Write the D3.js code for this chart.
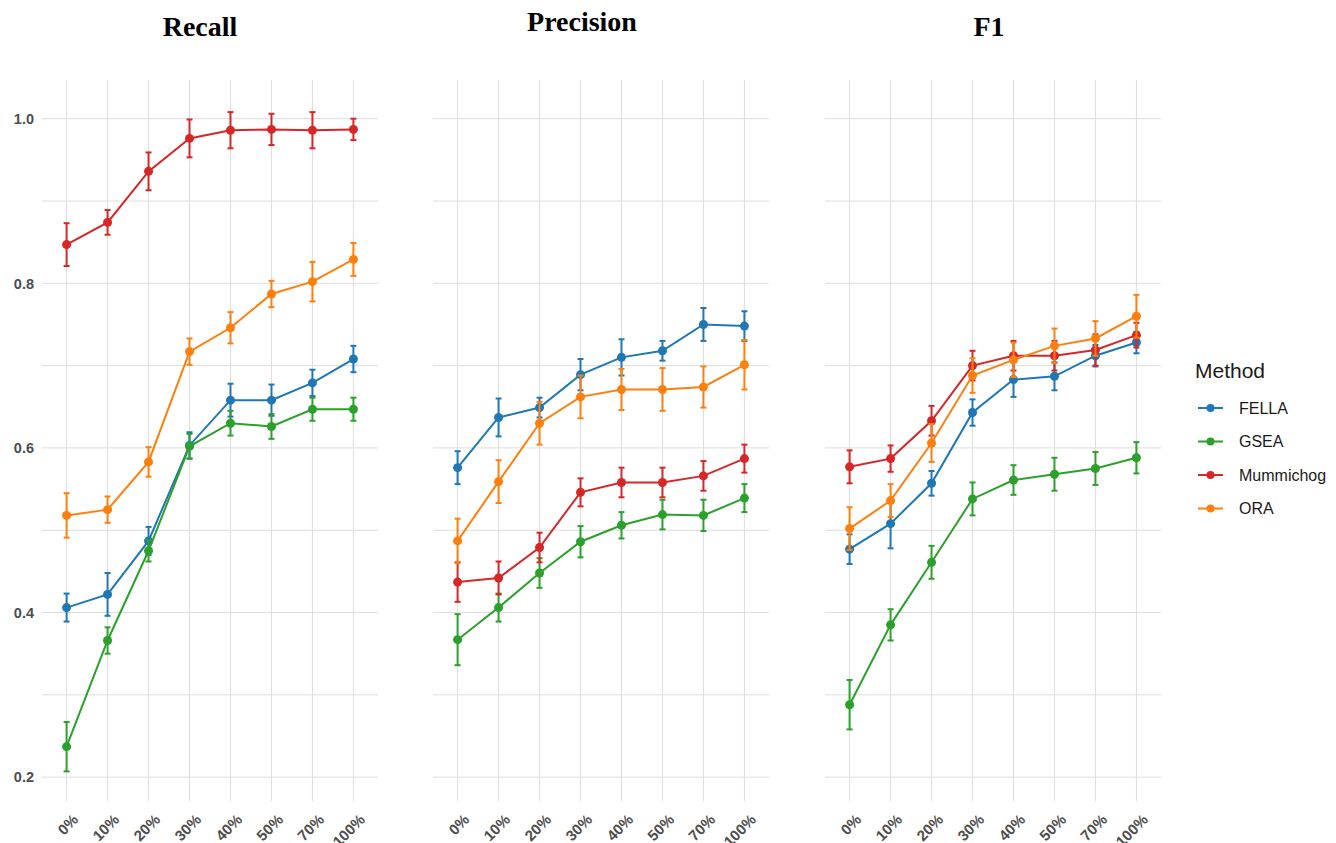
<!DOCTYPE html>
<html>
<head>
<meta charset="utf-8">
<script src="https://cdn.jsdelivr.net/npm/d3@7"></script>
<style>
  body { margin: 0; background: #fff; }
  svg { display: block; }
</style>
</head>
<body>
<div id="chart"></div>
<script>
// values
const levels = ["0%", "10%", "20%", "30%", "40%", "50%", "70%", "100%"];
const methods = ["FELLA", "GSEA", "Mummichog", "ORA"];
const colors = ["#1f77b4", "#2ca02c", "#d62728", "#ff7f0e"];
const yTicks = [0.2, 0.4, 0.6, 0.8, 1.0];
const yGrid = [0.2, 0.3, 0.4, 0.5, 0.6, 0.7, 0.8, 0.9, 1.0];

const recallFELLA = [0.406, 0.422, 0.487, 0.603, 0.658, 0.658, 0.679, 0.708];
const recallFELLAErr = [0.017, 0.026, 0.017, 0.016, 0.020, 0.019, 0.016, 0.016];
const recallGSEA = [0.237, 0.366, 0.475, 0.602, 0.630, 0.626, 0.647, 0.647];
const recallGSEAErr = [0.030, 0.016, 0.013, 0.015, 0.015, 0.015, 0.014, 0.014];
const recallMummichog = [0.847, 0.874, 0.936, 0.976, 0.986, 0.987, 0.986, 0.987];
const recallMummichogErr = [0.026, 0.015, 0.023, 0.023, 0.022, 0.019, 0.022, 0.013];
const recallORA = [0.518, 0.525, 0.583, 0.717, 0.746, 0.787, 0.802, 0.829];
const recallORAErr = [0.027, 0.016, 0.018, 0.016, 0.019, 0.016, 0.024, 0.020];

const precisionFELLA = [0.576, 0.637, 0.649, 0.689, 0.710, 0.718, 0.750, 0.748];
const precisionFELLAErr = [0.020, 0.023, 0.012, 0.019, 0.022, 0.012, 0.020, 0.018];
const precisionGSEA = [0.367, 0.406, 0.448, 0.486, 0.506, 0.519, 0.518, 0.539];
const precisionGSEAErr = [0.031, 0.017, 0.018, 0.019, 0.016, 0.018, 0.019, 0.017];
const precisionMummichog = [0.437, 0.442, 0.479, 0.546, 0.558, 0.558, 0.566, 0.587];
const precisionMummichogErr = [0.024, 0.020, 0.018, 0.017, 0.018, 0.018, 0.018, 0.017];
const precisionORA = [0.487, 0.559, 0.630, 0.662, 0.671, 0.671, 0.674, 0.701];
const precisionORAErr = [0.027, 0.026, 0.026, 0.026, 0.025, 0.026, 0.025, 0.030];

const f1FELLA = [0.477, 0.508, 0.557, 0.643, 0.683, 0.687, 0.712, 0.728];
const f1FELLAErr = [0.018, 0.030, 0.015, 0.016, 0.021, 0.017, 0.013, 0.013];
const f1GSEA = [0.288, 0.385, 0.461, 0.538, 0.561, 0.568, 0.575, 0.588];
const f1GSEAErr = [0.030, 0.019, 0.020, 0.020, 0.018, 0.020, 0.020, 0.019];
const f1Mummichog = [0.577, 0.587, 0.633, 0.700, 0.712, 0.712, 0.719, 0.737];
const f1MummichogErr = [0.020, 0.016, 0.018, 0.018, 0.018, 0.018, 0.019, 0.015];
const f1ORA = [0.502, 0.536, 0.606, 0.688, 0.707, 0.724, 0.733, 0.760];
const f1ORAErr = [0.026, 0.020, 0.023, 0.021, 0.021, 0.021, 0.021, 0.026];

const panels = [
  { title: "Recall", left: 42, titleX: 200, titleY: 36, showY: true,
    series: [[recallFELLA, recallFELLAErr], [recallGSEA, recallGSEAErr],
             [recallMummichog, recallMummichogErr], [recallORA, recallORAErr]] },
  { title: "Precision", left: 433, titleX: 582, titleY: 31, showY: false,
    series: [[precisionFELLA, precisionFELLAErr], [precisionGSEA, precisionGSEAErr],
             [precisionMummichog, precisionMummichogErr], [precisionORA, precisionORAErr]] },
  { title: "F1", left: 825, titleX: 989, titleY: 36, showY: false,
    series: [[f1FELLA, f1FELLAErr], [f1GSEA, f1GSEAErr],
             [f1Mummichog, f1MummichogErr], [f1ORA, f1ORAErr]] }
];

const width = 1336, height = 843;
const panelW = 336, plotTop = 80, plotBottom = 801;

const svg = d3.select("#chart").append("svg")
  .attr("width", width)
  .attr("height", height);

const y = d3.scaleLinear().domain([0.171, 1.047]).range([plotBottom, plotTop]);

panels.forEach(p => {
  const x = d3.scalePoint().domain(levels).range([p.left, p.left + panelW]).padding(0.6);
  const g = svg.append("g");

  // grid
  g.selectAll(".hg").data(yGrid).join("line")
    .attr("x1", p.left).attr("x2", p.left + panelW)
    .attr("y1", d => y(d)).attr("y2", d => y(d))
    .attr("stroke", "#dedede").attr("stroke-width", 1);
  g.selectAll(".vg").data(levels).join("line")
    .attr("x1", d => x(d)).attr("x2", d => x(d))
    .attr("y1", plotTop).attr("y2", plotBottom)
    .attr("stroke", "#dedede").attr("stroke-width", 1);

  // y labels
  if (p.showY) {
    g.selectAll(".yl").data(yTicks).join("text")
      .attr("x", p.left - 8).attr("y", d => y(d)).attr("dy", "0.36em")
      .attr("text-anchor", "end")
      .style("font-family", "Liberation Sans, Arial, sans-serif")
      .style("font-weight", "bold").style("font-size", "14.5px")
      .attr("fill", "#4d4d4d")
      .text(d => d.toFixed(1));
  }

  // x labels
  g.selectAll(".xl").data(levels).join("text")
    .attr("transform", d => `translate(${x(d) + 5},${plotBottom + 12}) rotate(-45)`)
    .attr("text-anchor", "end")
    .attr("dy", "0.72em")
    .style("font-family", "Liberation Sans, Arial, sans-serif")
    .style("font-weight", "bold").style("font-size", "15px")
    .attr("fill", "#4d4d4d")
    .text(d => d);

  // title
  svg.append("text")
    .attr("x", p.titleX).attr("y", p.titleY)
    .attr("text-anchor", "middle")
    .style("font-family", "Liberation Serif, Times New Roman, serif")
    .style("font-weight", "bold").style("font-size", "28px")
    .attr("fill", "#000")
    .text(p.title);

  const line = d3.line().x((d, i) => x(levels[i])).y(d => y(d));

  p.series.forEach(([vals, errs], k) => {
    const c = colors[k];
    const s = g.append("g");
    // error bars
    const eb = s.selectAll(".eb").data(vals).join("g");
    eb.append("line")
      .attr("x1", (d, i) => x(levels[i])).attr("x2", (d, i) => x(levels[i]))
      .attr("y1", (d, i) => y(d - errs[i])).attr("y2", (d, i) => y(d + errs[i]))
      .attr("stroke", c).attr("stroke-width", 2);
    [-1, 1].forEach(sg => {
      eb.append("line")
        .attr("x1", (d, i) => x(levels[i]) - 3).attr("x2", (d, i) => x(levels[i]) + 3)
        .attr("y1", (d, i) => y(d + sg * errs[i])).attr("y2", (d, i) => y(d + sg * errs[i]))
        .attr("stroke", c).attr("stroke-width", 2);
    });
    s.append("path").datum(vals)
      .attr("d", line)
      .attr("fill", "none").attr("stroke", c).attr("stroke-width", 2);
    s.selectAll("circle").data(vals).join("circle")
      .attr("cx", (d, i) => x(levels[i])).attr("cy", d => y(d))
      .attr("r", 4.5).attr("fill", c);
  });
});

// legend
const lg = svg.append("g").attr("transform", "translate(1195,0)");
lg.append("text")
  .attr("x", 0).attr("y", 378)
  .style("font-family", "Liberation Sans, Arial, sans-serif")
  .style("font-size", "21px").attr("fill", "#1a1a1a")
  .text("Method");
const items = lg.selectAll(".it").data(methods).join("g")
  .attr("transform", (d, i) => `translate(0,${408 + i * 33.5})`);
items.append("line")
  .attr("x1", 3).attr("x2", 28)
  .attr("stroke", (d, i) => colors[i]).attr("stroke-width", 2);
items.append("circle")
  .attr("cx", 15.5).attr("r", 4).attr("fill", (d, i) => colors[i]);
items.append("text")
  .attr("x", 44).attr("dy", "0.35em")
  .style("font-family", "Liberation Sans, Arial, sans-serif")
  .style("font-size", "16px").attr("fill", "#1a1a1a")
  .text(d => d);
</script>
</body>
</html>
